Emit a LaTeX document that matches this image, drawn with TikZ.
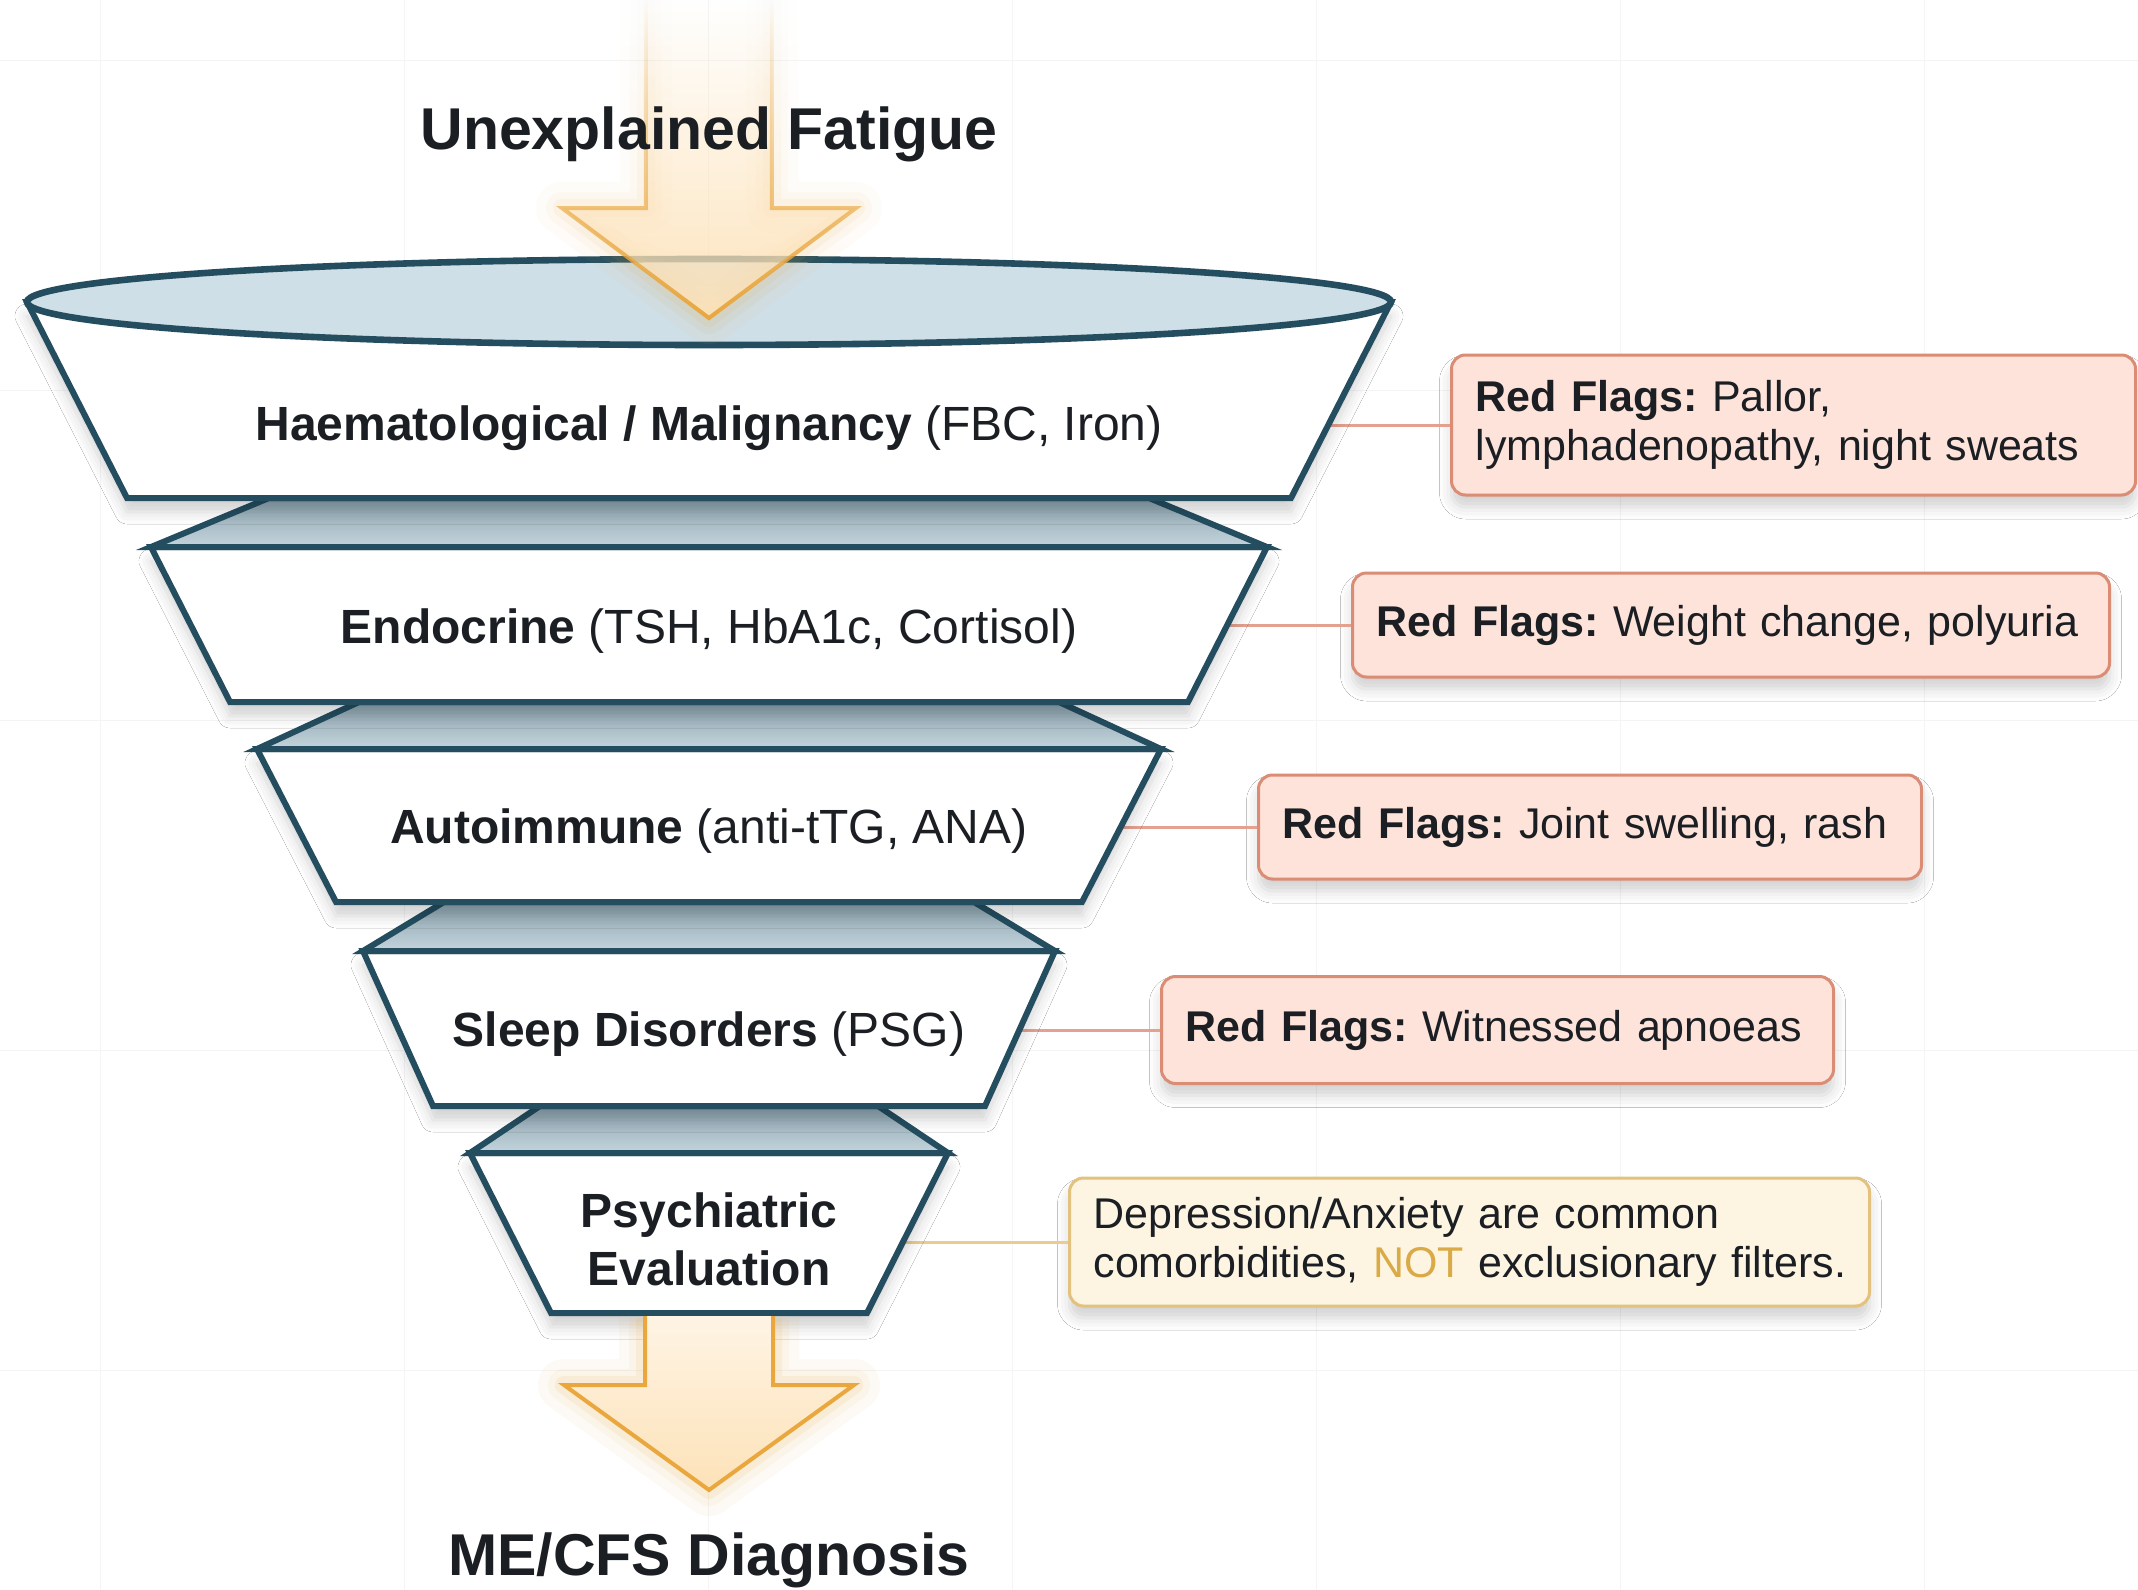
\documentclass[tikz,border=0pt]{standalone}
\usepackage{fontspec}
\setmainfont{Liberation Sans}
\usetikzlibrary{shadows.blur,fadings}
\frenchspacing
\hyphenpenalty=10000
\exhyphenpenalty=10000

\definecolor{ink}{HTML}{1B1F23}
\definecolor{funnelline}{HTML}{244E60}
\definecolor{rimfill}{HTML}{CFDFE7}
\definecolor{facetop}{HTML}{8CA4B1}
\definecolor{facebot}{HTML}{C4D4DB}
\definecolor{flagfill}{HTML}{FDE3D9}
\definecolor{flagline}{HTML}{DA8C75}
\definecolor{flaglink}{HTML}{E5A190}
\definecolor{notefill}{HTML}{FDF4E1}
\definecolor{noteline}{HTML}{E2C27E}
\definecolor{notelink}{HTML}{EBCB8F}
\definecolor{notword}{HTML}{D9AA45}
\definecolor{arrowline}{HTML}{E9A73E}
\definecolor{arrowfill}{HTML}{FDE2B8}
\definecolor{arrowtop}{HTML}{FEF4E4}
\definecolor{gridline}{HTML}{F4F4F4}

\tikzfading[name=fadeshaft, top color=transparent!100, middle color=transparent!0, bottom color=transparent!0]

\tikzset{
  layerbody/.style={fill=white, draw=funnelline, line width=3pt, line join=miter,
    blur shadow={shadow xshift=0pt, shadow yshift=-7pt, shadow blur radius=6pt, shadow opacity=18}},
  layerface/.style={top color=facetop, bottom color=facebot, draw=funnelline, line width=3pt, line join=miter},
  layertext/.style={font=\fontsize{24}{29}\selectfont, text=ink, align=center},
  titletext/.style={font=\bfseries\fontsize{29.5}{34}\selectfont, text=ink},
  calloutbase/.style={anchor=west, line width=1.5pt, rounded corners=7pt, inner xsep=12pt,
    align=left, font=\fontsize{21.5}{24.5}\selectfont, text=ink,
    blur shadow={shadow xshift=0pt, shadow yshift=-6pt, shadow blur radius=6pt, shadow opacity=18}},
  flagbox/.style={calloutbase, draw=flagline, fill=flagfill},
  notebox/.style={calloutbase, draw=noteline, fill=notefill},
  flaglinkline/.style={draw=flaglink, line width=1.5pt},
  notelinkline/.style={draw=notelink, line width=1.5pt},
  arrowedge/.style={draw=arrowline, line width=2pt, line join=miter},
  glow/.style={draw=arrowline, line join=round},
}

\begin{document}
\begin{tikzpicture}[x=0.5pt,y=-0.5pt]
  \useasboundingbox (0,0) rectangle (2138,1590);
  \fill[white] (0,0) rectangle (2138,1590);

  % faint background grid
  \foreach \gx in {100,404,708,1012,1316,1620,1924}
    \draw[gridline, line width=0.5pt] (\gx,0) -- (\gx,1590);
  \foreach \gy in {60,390,720,1050,1370}
    \draw[gridline, line width=0.5pt] (0,\gy) -- (2138,\gy);

  % anchor points on the right-hand edge of each stage
  \coordinate (e1) at (1328,425);
  \coordinate (e2) at (1227,625);
  \coordinate (e3) at (1121,827);
  \coordinate (e4) at (1019,1030);
  \coordinate (e5) at (903,1242);

  % callout boxes
  \node[flagbox, minimum width=342pt, minimum height=70pt, text width=318pt] (rf1) at (1450,425)
    {\textbf{Red Flags:} Pallor,\\\mbox{lymphadenopathy, night sweats}};
  \node[flagbox, minimum width=378.5pt, minimum height=52pt, text width=354.5pt] (rf2) at (1351,625)
    {\mbox{\textbf{Red Flags:} Weight change, polyuria}};
  \node[flagbox, minimum width=331.5pt, minimum height=52pt, text width=307.5pt] (rf3) at (1257,827)
    {\mbox{\textbf{Red Flags:} Joint swelling, rash}};
  \node[flagbox, minimum width=336pt, minimum height=53.5pt, text width=312pt] (rf4) at (1160,1030)
    {\mbox{\textbf{Red Flags:} Witnessed apnoeas}};
  \node[notebox, minimum width=400pt, minimum height=64pt, text width=376pt] (nt5) at (1068,1242)
    {\mbox{Depression/Anxiety are common}\\\mbox{comorbidities, \textcolor{notword}{NOT} exclusionary filters.}};

  % connectors from the funnel to the callouts
  \draw[flaglinkline] (e1) -- (rf1.west);
  \draw[flaglinkline] (e2) -- (rf2.west);
  \draw[flaglinkline] (e3) -- (rf3.west);
  \draw[flaglinkline] (e4) -- (rf4.west);
  \draw[notelinkline] (e5) -- (nt5.west);

  % funnel, drawn from the narrow end upwards
  \draw[layerbody] (470,1153) -- (948,1153) -- (867,1313) -- (551,1313) -- cycle;
  \draw[layerface] (540,1106) -- (878,1106) -- (948,1153) -- (470,1153) -- cycle;
  \draw[layerbody] (363,951) -- (1055,951) -- (985,1106) -- (433,1106) -- cycle;
  \draw[layerface] (444,902) -- (974,902) -- (1055,951) -- (363,951) -- cycle;
  \draw[layerbody] (257,749) -- (1161,749) -- (1082,902) -- (336,902) -- cycle;
  \draw[layerface] (359,702) -- (1059,702) -- (1161,749) -- (257,749) -- cycle;
  \draw[layerbody] (151,547) -- (1267,547) -- (1188,702) -- (230,702) -- cycle;
  \draw[layerface] (269,498) -- (1149,498) -- (1267,547) -- (151,547) -- cycle;
  \draw[layerbody] (27,302) -- (127,498) -- (1291,498) -- (1391,302) -- cycle;
  \draw[fill=rimfill, draw=funnelline, line width=3.3pt] (709,302) ellipse [x radius=682, y radius=43];

  % stage labels
  \node[layertext] (s1) at (709,428) {\textbf{Haematological / Malignancy} (FBC, Iron)};
  \node[layertext] (s2) at (709,631) {\textbf{Endocrine} (TSH, HbA1c, Cortisol)};
  \node[layertext] (s3) at (709,831) {\textbf{Autoimmune} (anti-tTG, ANA)};
  \node[layertext] (s4) at (709,1034) {\textbf{Sleep Disorders} (PSG)};
  \node[layertext] (s5) at (709,1239) {\textbf{Psychiatric}\\\textbf{Evaluation}};

  % input arrow with soft glow, fading out at the top
  \foreach \w/\o in {26/0.05,16/0.07,9/0.10}
    \draw[glow, line width=\w pt, opacity=\o, path fading=fadeshaft]
      (646,0) -- (646,208) -- (562,208) -- (709,318) -- (856,208) -- (772,208) -- (772,0);
  \fill[arrowfill, fill opacity=0.93, path fading=fadeshaft]
    (646,0) -- (646,208) -- (562,208) -- (709,318) -- (856,208) -- (772,208) -- (772,0) -- cycle;
  \draw[arrowedge, path fading=fadeshaft]
    (646,0) -- (646,208) -- (562,208) -- (709,318) -- (856,208) -- (772,208) -- (772,0);

  % output arrow
  \foreach \w/\o in {26/0.05,16/0.07,9/0.10}
    \draw[glow, line width=\w pt, opacity=\o]
      (645,1318) -- (645,1385) -- (564,1385) -- (709,1490) -- (854,1385) -- (773,1385) -- (773,1318);
  \path[top color=arrowtop, bottom color=arrowfill]
    (645,1316) -- (645,1385) -- (564,1385) -- (709,1490) -- (854,1385) -- (773,1385) -- (773,1316) -- cycle;
  \draw[arrowedge]
    (645,1316) -- (645,1385) -- (564,1385) -- (709,1490) -- (854,1385) -- (773,1385) -- (773,1316);

  % titles
  \node[titletext] (tin) at (709,134) {Unexplained Fatigue};
  \node[titletext] (tout) at (709,1560) {ME/CFS Diagnosis};
\end{tikzpicture}
\end{document}
